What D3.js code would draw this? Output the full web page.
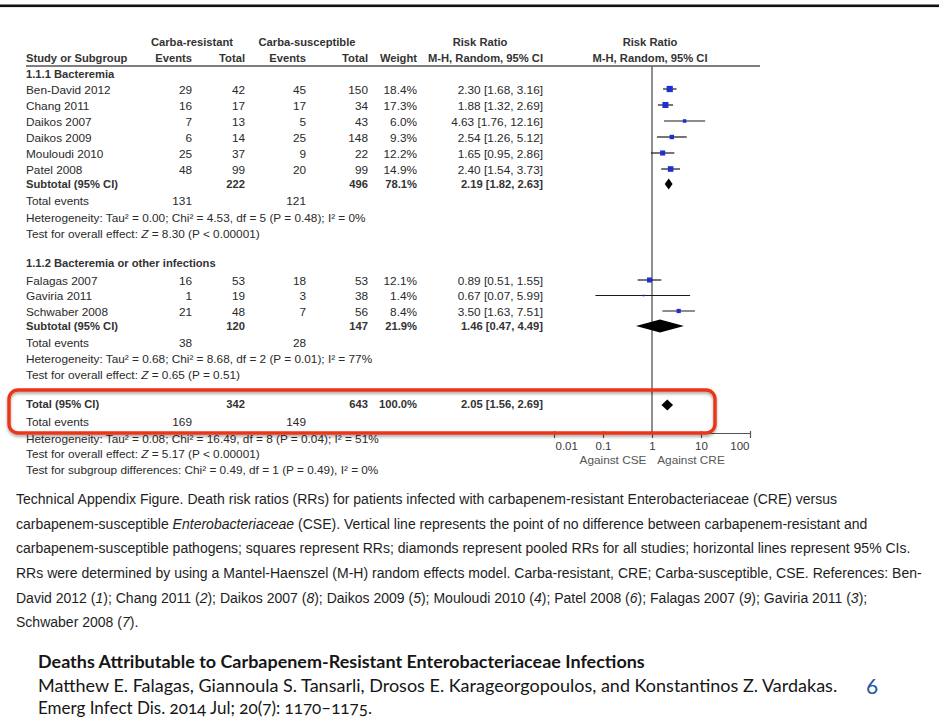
<!DOCTYPE html>
<html>
<head>
<meta charset="utf-8">
<script src="https://cdn.jsdelivr.net/npm/d3@7"></script>
<style>
  html, body { margin: 0; padding: 0; background: #fff; }
  svg { display: block; }
  .tbl { font-family: "Liberation Sans", Arial, sans-serif; font-size: 11.8px; fill: #2a2a2a; }
  .b { font-weight: bold; font-size: 11.2px; fill: #333; }
  .cap { font-family: "Liberation Sans Narrow", "Arial Narrow", "Liberation Sans", Arial, sans-serif; font-size: 14.5px; fill: #1e1e1e; }
  .cite { font-family: Lato, "Open Sans", "Noto Sans", sans-serif; font-size: 17px; fill: #161616; font-variant-numeric: oldstyle-nums; }
</style>
</head>
<body>
<svg id="chart" width="939" height="719"></svg>
<script>
// ---- study-level data ----
const studies   = ["Ben-David 2012", "Chang 2011", "Daikos 2007", "Daikos 2009", "Mouloudi 2010", "Patel 2008",
                   "Falagas 2007", "Gaviria 2011", "Schwaber 2008"];
const groupOf   = [0, 0, 0, 0, 0, 0, 1, 1, 1];
const creEvents = [29, 16, 7, 6, 25, 48, 16, 1, 21];
const creTotal  = [42, 17, 13, 14, 37, 99, 53, 19, 48];
const cseEvents = [45, 17, 5, 25, 9, 20, 18, 3, 7];
const cseTotal  = [150, 34, 43, 148, 22, 99, 53, 38, 56];
const weights   = [18.4, 17.3, 6.0, 9.3, 12.2, 14.9, 12.1, 1.4, 8.4];
const rr        = [2.30, 1.88, 4.63, 2.54, 1.65, 2.40, 0.89, 0.67, 3.50];
const rrLow     = [1.68, 1.32, 1.76, 1.26, 0.95, 1.54, 0.51, 0.07, 1.63];
const rrHigh    = [3.16, 2.69, 12.16, 5.12, 2.86, 3.73, 1.55, 5.99, 7.51];

// ---- subgroup and overall pooled results ----
const groupNames     = ["1.1.1 Bacteremia", "1.1.2 Bacteremia or other infections"];
const groupCreTotal  = [222, 120];
const groupCseTotal  = [496, 147];
const groupWeight    = [78.1, 21.9];
const groupRR        = [2.19, 1.46];
const groupLow       = [1.82, 0.47];
const groupHigh      = [2.63, 4.49];
const groupCreEvents = [131, 38];
const groupCseEvents = [121, 28];
const groupHetero    = ["Heterogeneity: Tau² = 0.00; Chi² = 4.53, df = 5 (P = 0.48); I² = 0%",
                        "Heterogeneity: Tau² = 0.68; Chi² = 8.68, df = 2 (P = 0.01); I² = 77%"];
const groupEffect    = ["= 8.30 (P < 0.00001)", "= 0.65 (P = 0.51)"];

const totalCre = 342, totalCse = 643, totalWeight = 100.0;
const totalRR = 2.05, totalLow = 1.56, totalHigh = 2.69;
const totalCreEvents = 169, totalCseEvents = 149;
const totalHetero = "Heterogeneity: Tau² = 0.08; Chi² = 16.49, df = 8 (P = 0.04); I² = 51%";
const totalEffect = "= 5.17 (P < 0.00001)";
const subgroupDiff = "Test for subgroup differences: Chi² = 0.49, df = 1 (P = 0.49), I² = 0%";

const axisTicks  = [0.01, 0.1, 1, 10, 100];
const tickLabels = ["0.01", "0.1", "1", "10", "100"];
const favourLeft = "Against CSE", favourRight = "Against CRE";

const captionLines = [
  [["Technical Appendix Figure. Death risk ratios (RRs) for patients infected with carbapenem-resistant Enterobacteriaceae (CRE) versus", 0]],
  [["carbapenem-susceptible ", 0], ["Enterobacteriaceae", 1], [" (CSE). Vertical line represents the point of no difference between carbapenem-resistant and", 0]],
  [["carbapenem-susceptible pathogens; squares represent RRs; diamonds represent pooled RRs for all studies; horizontal lines represent 95% CIs.", 0]],
  [["RRs were determined by using a Mantel-Haenszel (M-H) random effects model. Carba-resistant, CRE; Carba-susceptible, CSE. References: Ben-", 0]],
  [["David 2012 (", 0], ["1", 1], ["); Chang 2011 (", 0], ["2", 1], ["); Daikos 2007 (", 0], ["8", 1], ["); Daikos 2009 (", 0], ["5", 1],
   ["); Mouloudi 2010 (", 0], ["4", 1], ["); Patel 2008 (", 0], ["6", 1], ["); Falagas 2007 (", 0], ["9", 1], ["); Gaviria 2011 (", 0], ["3", 1], [");", 0]],
  [["Schwaber 2008 (", 0], ["7", 1], [").", 0]]
];
const citeTitle   = "Deaths Attributable to Carbapenem-Resistant Enterobacteriaceae Infections";
const citeAuthors = "Matthew E. Falagas, Giannoula S. Tansarli, Drosos E. Karageorgopoulos, and Konstantinos Z. Vardakas.";
const citeSource  = "Emerg Infect Dis. 2014 Jul; 20(7): 1170–1175.";
const slideNumber = "6";

// ---- layout ----
const svg = d3.select("#chart");
const fmt2 = d3.format(".2f"), fmtW = d => d3.format(".1f")(d) + "%";
const ciText = (m, l, h) => `${fmt2(m)} [${fmt2(l)}, ${fmt2(h)}]`;

const col = { label: 26, creEv: 192, creTot: 245, cseEv: 306, cseTot: 368, weight: 417, rr: 543 };
const studyRowY = [89, 105, 121, 137, 153, 169, 280, 295.5, 311];
const rowY = {
  head1: 42, head2: 58, group: [74, 263], subtotal: [184, 326], events: [201, 343], hetero: [217.5, 359], effect: [233.5, 375],
  total: 404, totalEvents: 422, totalHetero: 439, totalEffect: 454, subDiff: 470
};
const x = d3.scaleLog().domain([0.01, 100]).range([554, 750]);
const axisY = 433, plotTop = 66;

// top rule
svg.append("rect").attr("x", 0).attr("y", 4.5).attr("width", 939).attr("height", 2.6).attr("fill", "#111");

const tbl = svg.append("g").attr("class", "tbl");
function txt(g, xv, yv, s, anchor, cls) {
  return g.append("text").attr("x", xv).attr("y", yv).attr("dy", "0.36em")
    .attr("text-anchor", anchor || "start").attr("class", cls || null).text(s);
}

// headers
txt(tbl, 192, rowY.head1, "Carba-resistant", "middle", "b");
txt(tbl, 307, rowY.head1, "Carba-susceptible", "middle", "b");
txt(tbl, 480, rowY.head1, "Risk Ratio", "middle", "b");
txt(tbl, 650, rowY.head1, "Risk Ratio", "middle", "b");
txt(tbl, col.label, rowY.head2, "Study or Subgroup", "start", "b");
txt(tbl, col.creEv, rowY.head2, "Events", "end", "b");
txt(tbl, col.creTot, rowY.head2, "Total", "end", "b");
txt(tbl, col.cseEv, rowY.head2, "Events", "end", "b");
txt(tbl, col.cseTot, rowY.head2, "Total", "end", "b");
txt(tbl, col.weight, rowY.head2, "Weight", "end", "b");
txt(tbl, col.rr, rowY.head2, "M-H, Random, 95% CI", "end", "b");
txt(tbl, 650, rowY.head2, "M-H, Random, 95% CI", "middle", "b");
svg.append("line").attr("x1", 26).attr("x2", 760).attr("y1", plotTop).attr("y2", plotTop)
  .attr("stroke", "#555").attr("stroke-width", 1.4);

// study rows
studies.forEach((s, i) => {
  const y = studyRowY[i] + 0.5;
  txt(tbl, col.label, y, s);
  txt(tbl, col.creEv, y, creEvents[i], "end");
  txt(tbl, col.creTot, y, creTotal[i], "end");
  txt(tbl, col.cseEv, y, cseEvents[i], "end");
  txt(tbl, col.cseTot, y, cseTotal[i], "end");
  txt(tbl, col.weight, y, fmtW(weights[i]), "end");
  txt(tbl, col.rr, y, ciText(rr[i], rrLow[i], rrHigh[i]), "end");
});

function effectLine(y, rest) {
  const t = tbl.append("text").attr("x", col.label).attr("y", y).attr("dy", "0.36em");
  t.append("tspan").text("Test for overall effect: ");
  t.append("tspan").attr("font-style", "italic").text("Z");
  t.append("tspan").text(" " + rest);
}

// subgroup summaries
groupNames.forEach((g, k) => {
  txt(tbl, col.label, rowY.group[k], g, "start", "b");
  const ys = rowY.subtotal[k];
  txt(tbl, col.label, ys, "Subtotal (95% CI)", "start", "b");
  txt(tbl, col.creTot, ys, groupCreTotal[k], "end", "b");
  txt(tbl, col.cseTot, ys, groupCseTotal[k], "end", "b");
  txt(tbl, col.weight, ys, fmtW(groupWeight[k]), "end", "b");
  txt(tbl, col.rr, ys, ciText(groupRR[k], groupLow[k], groupHigh[k]), "end", "b");
  txt(tbl, col.label, rowY.events[k], "Total events");
  txt(tbl, col.creEv, rowY.events[k], groupCreEvents[k], "end");
  txt(tbl, col.cseEv, rowY.events[k], groupCseEvents[k], "end");
  txt(tbl, col.label, rowY.hetero[k], groupHetero[k]);
  effectLine(rowY.effect[k], groupEffect[k]);
});

// overall
txt(tbl, col.label, rowY.total, "Total (95% CI)", "start", "b");
txt(tbl, col.creTot, rowY.total, totalCre, "end", "b");
txt(tbl, col.cseTot, rowY.total, totalCse, "end", "b");
txt(tbl, col.weight, rowY.total, fmtW(totalWeight), "end", "b");
txt(tbl, col.rr, rowY.total, ciText(totalRR, totalLow, totalHigh), "end", "b");
txt(tbl, col.label, rowY.totalEvents, "Total events");
txt(tbl, col.creEv, rowY.totalEvents, totalCreEvents, "end");
txt(tbl, col.cseEv, rowY.totalEvents, totalCseEvents, "end");
txt(tbl, col.label, rowY.totalHetero, totalHetero);
effectLine(rowY.totalEffect, totalEffect);
txt(tbl, col.label, rowY.subDiff, subgroupDiff);

// ---- forest plot ----
const plot = svg.append("g");
plot.append("line").attr("x1", x(1)).attr("x2", x(1)).attr("y1", plotTop).attr("y2", axisY)
  .attr("stroke", "#6a6a6a").attr("stroke-width", 1.5);

studies.forEach((s, i) => {
  const y = studyRowY[i];
  plot.append("line").attr("x1", x(rrLow[i])).attr("x2", x(rrHigh[i])).attr("y1", y).attr("y2", y)
    .attr("stroke", "#1a1a1a").attr("stroke-width", 1.2);
  const side = 1.45 * Math.sqrt(weights[i]);
  plot.append("rect").attr("x", x(rr[i]) - side / 2).attr("y", y - side / 2)
    .attr("width", side).attr("height", side).attr("fill", "#1f2fd0");
});

function diamond(m, l, h, y, hh) {
  plot.append("path")
    .attr("d", `M${x(l)},${y} L${x(m)},${y - hh / 2} L${x(h)},${y} L${x(m)},${y + hh / 2} Z`)
    .attr("fill", "#000");
}
groupRR.forEach((m, k) => diamond(m, groupLow[k], groupHigh[k], rowY.subtotal[k], k === 0 ? 11 : 13));
diamond(totalRR, totalLow, totalHigh, rowY.total + 1, 11);

// axis: end labels sit inside the axis span
const axis = d3.axisBottom(x).tickValues(axisTicks).tickFormat((d, i) => tickLabels[i]).tickSize(5).tickSizeOuter(0);
const ag = svg.append("g").attr("transform", `translate(0,${axisY})`).call(axis);
ag.select(".domain").attr("stroke", "#555").attr("stroke-width", 1.2);
ag.selectAll(".tick line").attr("stroke", "#555").attr("stroke-width", 1.2).attr("y1", -2);
const last = axisTicks.length - 1;
ag.selectAll(".tick text").attr("font-family", "Liberation Sans, Arial, sans-serif").attr("font-size", 11.5)
  .attr("fill", "#3a3a3a").attr("y", 9)
  .attr("text-anchor", (d, i) => i === 0 ? "start" : i === last ? "end" : "middle")
  .attr("x", (d, i) => i === 0 ? 1 : i === last ? -1 : 0);
txt(tbl, 613, 460, favourLeft, "middle").attr("fill", "#555");
txt(tbl, 691, 460, favourRight, "middle").attr("fill", "#555");

// highlight box around the overall result
const defs = svg.append("defs");
const f = defs.append("filter").attr("id", "sh").attr("x", "-5%").attr("y", "-30%").attr("width", "110%").attr("height", "170%");
f.append("feDropShadow").attr("dx", 0).attr("dy", 2).attr("stdDeviation", 1.6).attr("flood-color", "#000").attr("flood-opacity", 0.35);
svg.append("rect").attr("x", 9).attr("y", 390).attr("width", 706).attr("height", 43).attr("rx", 9)
  .attr("fill", "none").attr("stroke", "#ec3419").attr("stroke-width", 3.4).attr("filter", "url(#sh)");

// ---- caption ----
const capG = svg.append("g").attr("class", "cap");
const capTexts = captionLines.map((parts, i) => {
  const t = capG.append("text").attr("x", 0).attr("y", 499 + 24.6 * i).attr("dy", "0.36em");
  parts.forEach(([s, it]) => t.append("tspan").attr("font-style", it ? "italic" : null).text(s));
  return t;
});
// horizontal fit of the caption face
const probe = capG.append("text").text("Technical Appendix Figure. Death risk ratios (RRs) for patients infected ");
const sx = 440 / probe.node().getComputedTextLength();
probe.remove();
capG.attr("transform", `translate(16,0) scale(${sx},1)`);

// ---- citation ----
function citeLine(s, y, targetW, bold) {
  const g = svg.append("g").attr("class", "cite");
  const t = g.append("text").attr("x", 0).attr("y", y).attr("dy", "0.36em").attr("font-weight", bold ? "bold" : null).text(s);
  const k = targetW / t.node().getComputedTextLength();
  g.attr("transform", `translate(38,0) scale(${k},1)`);
}
citeLine(citeTitle, 662, 607, true);
citeLine(citeAuthors, 686, 800, false);
citeLine(citeSource, 707.5, 334, false);
svg.append("text").attr("x", 872).attr("y", 686).attr("dy", "0.36em").attr("text-anchor", "middle")
  .attr("font-family", "Lato, 'Open Sans', sans-serif").attr("font-size", 21).attr("fill", "#1d57a5").text(slideNumber);
</script>
</body>
</html>
